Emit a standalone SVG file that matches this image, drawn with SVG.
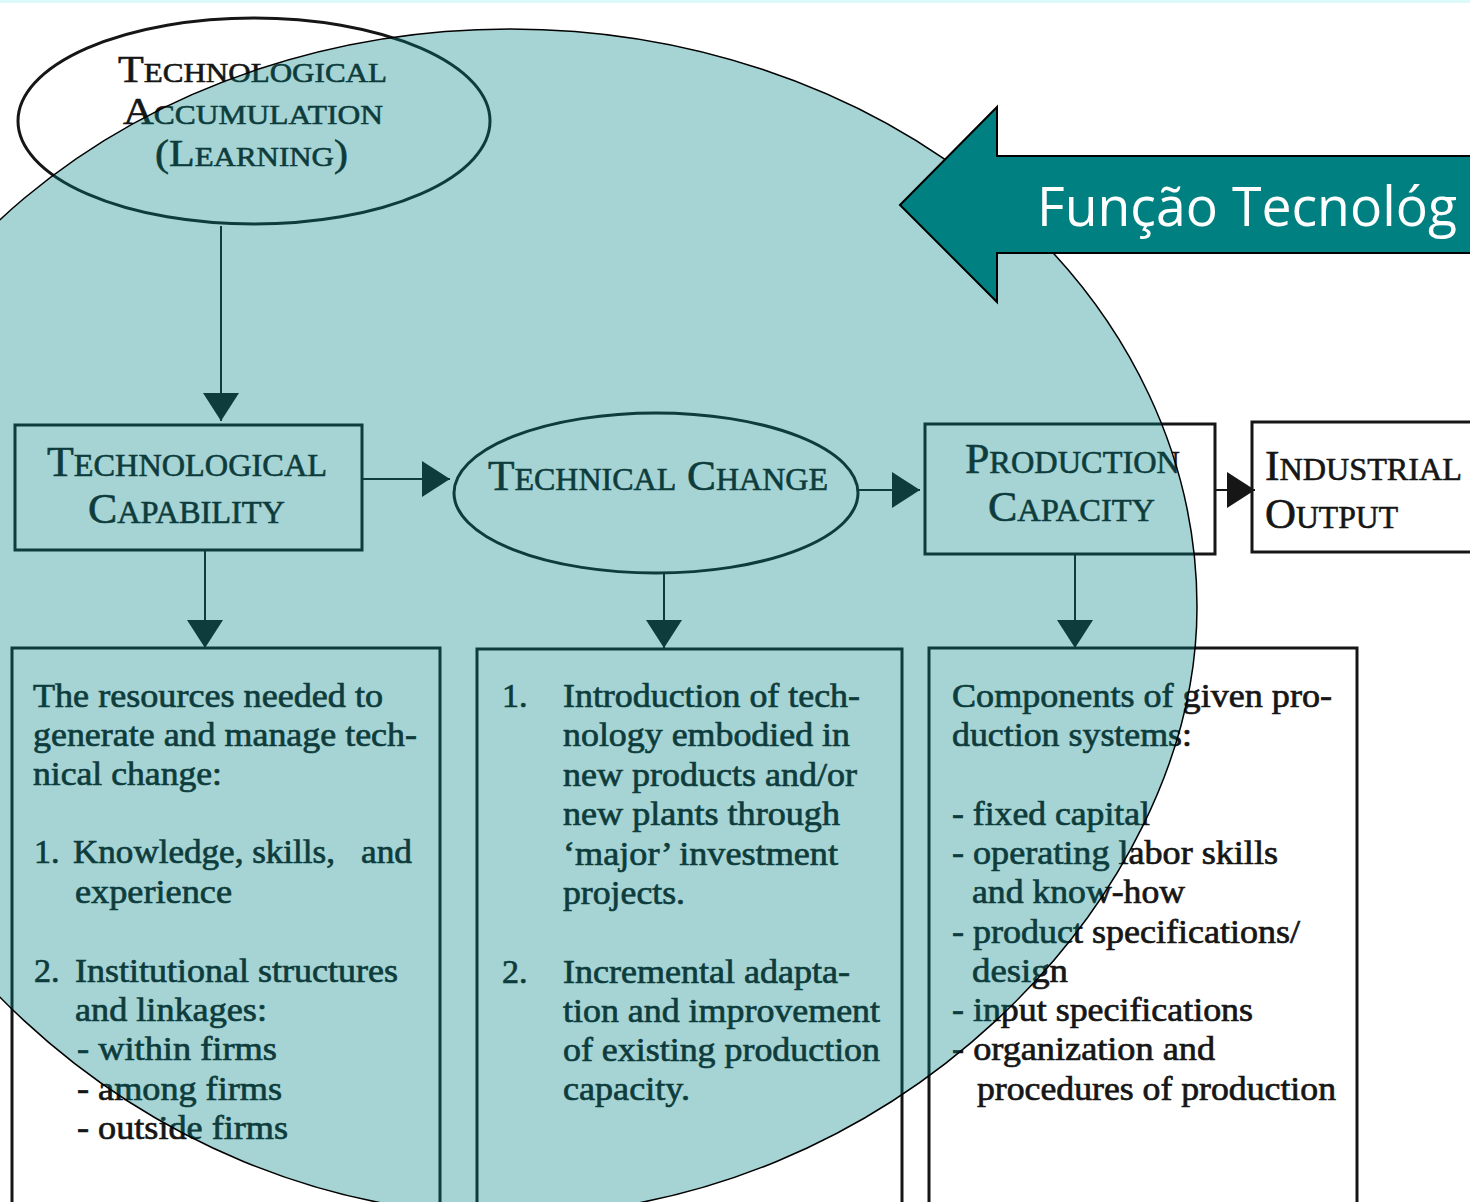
<svg xmlns="http://www.w3.org/2000/svg" width="1470" height="1202" viewBox="0 0 1470 1202">
<style>
.ln{stroke:#161616;fill:none}
.bx{stroke:#161616;stroke-width:3;fill:none}
.h{font-family:"Liberation Serif","Times New Roman",serif;font-size:42px;fill:#161616;stroke:#161616;stroke-width:0.6}
.h2{font-family:"Liberation Serif","Times New Roman",serif;font-size:38px;fill:#161616;stroke:#161616;stroke-width:0.6}
.sc{font-size:31px}
.sc2{font-size:28px}
.b{font-family:"Liberation Serif","Times New Roman",serif;font-size:34px;fill:#161616;stroke:#161616;stroke-width:0.7}
.cn{stroke:#161616;stroke-width:2;fill:none;marker-end:url(#ah)}
</style>
<defs>
<marker id="ah" viewBox="0 0 28 36" refX="28" refY="18" markerWidth="28" markerHeight="36" markerUnits="userSpaceOnUse" orient="auto">
<path d="M0,0 L28,18 L0,36 Z" fill="#161616"/>
</marker>
</defs>
<rect x="0" y="0" width="1470" height="1202" fill="#ffffff"/>
<rect x="0" y="0" width="1470" height="3" fill="#dcfafa"/>

<g id="connectors">
<line class="cn" x1="221" y1="226" x2="221" y2="421"/>
<line class="cn" x1="362" y1="479" x2="450" y2="479"/>
<line class="cn" x1="858" y1="490" x2="920" y2="490"/>
<line class="cn" x1="1215" y1="490" x2="1255" y2="490"/>
<line class="cn" x1="205" y1="550" x2="205" y2="648"/>
<line class="cn" x1="664" y1="573" x2="664" y2="648"/>
<line class="cn" x1="1075" y1="554" x2="1075" y2="648"/>
</g>

<g id="n-accumulation">
<ellipse cx="254" cy="121" rx="236" ry="103" class="ln" stroke-width="3"/>
<text class="h2" x="118" y="82" textLength="269" lengthAdjust="spacingAndGlyphs">T<tspan class="sc2">ECHNOLOGICAL</tspan></text>
<text class="h2" x="123" y="124" textLength="260" lengthAdjust="spacingAndGlyphs">A<tspan class="sc2">CCUMULATION</tspan></text>
<text class="h2" x="155" y="166" textLength="193" lengthAdjust="spacingAndGlyphs">(L<tspan class="sc2">EARNING</tspan>)</text>
</g>

<g id="n-capability">
<rect x="15" y="425" width="347" height="125" class="bx"/>
<text class="h" x="47" y="476" textLength="280" lengthAdjust="spacingAndGlyphs">T<tspan class="sc">ECHNOLOGICAL</tspan></text>
<text class="h" x="88" y="523" textLength="197" lengthAdjust="spacingAndGlyphs">C<tspan class="sc">APABILITY</tspan></text>
</g>

<g id="n-technical-change">
<ellipse cx="656" cy="493" rx="202" ry="80" class="ln" stroke-width="3"/>
<text class="h" x="488" y="490" textLength="340" lengthAdjust="spacingAndGlyphs">T<tspan class="sc">ECHNICAL</tspan> C<tspan class="sc">HANGE</tspan></text>
</g>

<g id="n-production">
<rect x="925" y="424" width="290" height="130" class="bx"/>
<text class="h" x="965" y="473" textLength="215" lengthAdjust="spacingAndGlyphs">P<tspan class="sc">RODUCTION</tspan></text>
<text class="h" x="988" y="521" textLength="167" lengthAdjust="spacingAndGlyphs">C<tspan class="sc">APACITY</tspan></text>
</g>

<g id="n-output">
<rect x="1252" y="422" width="240" height="130" class="bx"/>
<text class="h" x="1265" y="480" textLength="197" lengthAdjust="spacingAndGlyphs">I<tspan class="sc">NDUSTRIAL</tspan></text>
<text class="h" x="1265" y="528" textLength="133" lengthAdjust="spacingAndGlyphs">O<tspan class="sc">UTPUT</tspan></text>
</g>

<g id="n-resources">
<rect x="12" y="648" width="428" height="556" class="bx"/>
<text class="b" x="33" y="707" textLength="350" lengthAdjust="spacingAndGlyphs">The resources needed to</text>
<text class="b" x="33" y="746" textLength="384" lengthAdjust="spacingAndGlyphs">generate and manage tech-</text>
<text class="b" x="33" y="785" textLength="189" lengthAdjust="spacingAndGlyphs">nical change:</text>
<text class="b" x="34" y="863">1.</text>
<text class="b" x="73" y="863" textLength="262" lengthAdjust="spacingAndGlyphs">Knowledge, skills,</text>
<text class="b" x="361" y="863" textLength="51" lengthAdjust="spacingAndGlyphs">and</text>
<text class="b" x="75" y="903" textLength="157" lengthAdjust="spacingAndGlyphs">experience</text>
<text class="b" x="34" y="982">2.</text>
<text class="b" x="75" y="982" textLength="323" lengthAdjust="spacingAndGlyphs">Institutional structures</text>
<text class="b" x="75" y="1021" textLength="192" lengthAdjust="spacingAndGlyphs">and linkages:</text>
<text class="b" x="77" y="1060" textLength="200" lengthAdjust="spacingAndGlyphs">- within firms</text>
<text class="b" x="77" y="1100" textLength="205" lengthAdjust="spacingAndGlyphs">- among firms</text>
<text class="b" x="77" y="1139" textLength="211" lengthAdjust="spacingAndGlyphs">- outside firms</text>
</g>

<g id="n-change-forms">
<rect x="477" y="649" width="425" height="555" class="bx"/>
<text class="b" x="502" y="707">1.</text>
<text class="b" x="563" y="707" textLength="297" lengthAdjust="spacingAndGlyphs">Introduction of tech-</text>
<text class="b" x="563" y="746" textLength="287" lengthAdjust="spacingAndGlyphs">nology embodied in</text>
<text class="b" x="563" y="786" textLength="294" lengthAdjust="spacingAndGlyphs">new products and/or</text>
<text class="b" x="563" y="825" textLength="277" lengthAdjust="spacingAndGlyphs">new plants through</text>
<text class="b" x="563" y="865" textLength="275" lengthAdjust="spacingAndGlyphs">‘major’ investment</text>
<text class="b" x="563" y="904" textLength="122" lengthAdjust="spacingAndGlyphs">projects.</text>
<text class="b" x="502" y="983">2.</text>
<text class="b" x="563" y="983" textLength="287" lengthAdjust="spacingAndGlyphs">Incremental adapta-</text>
<text class="b" x="563" y="1022" textLength="317" lengthAdjust="spacingAndGlyphs">tion and improvement</text>
<text class="b" x="563" y="1061" textLength="317" lengthAdjust="spacingAndGlyphs">of existing production</text>
<text class="b" x="563" y="1100" textLength="127" lengthAdjust="spacingAndGlyphs">capacity.</text>
</g>

<g id="n-components">
<rect x="929" y="648" width="428" height="556" class="bx"/>
<text class="b" x="952" y="707" textLength="380" lengthAdjust="spacingAndGlyphs">Components of given pro-</text>
<text class="b" x="952" y="746" textLength="240" lengthAdjust="spacingAndGlyphs">duction systems:</text>
<text class="b" x="952" y="825" textLength="198" lengthAdjust="spacingAndGlyphs">- fixed capital</text>
<text class="b" x="952" y="864" textLength="326" lengthAdjust="spacingAndGlyphs">- operating labor skills</text>
<text class="b" x="972" y="903" textLength="213" lengthAdjust="spacingAndGlyphs">and know-how</text>
<text class="b" x="952" y="943" textLength="348" lengthAdjust="spacingAndGlyphs">- product specifications/</text>
<text class="b" x="972" y="982" textLength="96" lengthAdjust="spacingAndGlyphs">design</text>
<text class="b" x="952" y="1021" textLength="301" lengthAdjust="spacingAndGlyphs">- input specifications</text>
<text class="b" x="952" y="1060" textLength="263" lengthAdjust="spacingAndGlyphs">- organization and</text>
<text class="b" x="977" y="1100" textLength="359" lengthAdjust="spacingAndGlyphs">procedures of production</text>
</g>

<g id="overlay">
<path d="M-177,607 A687,578 0 0 1 1197,607 C1197,900 889,1215 510,1215 C131,1215 -177,900 -177,607 Z" fill="#008080" fill-opacity="0.35" stroke="#000" stroke-width="1.5"/>
</g>

<g id="banner">
<polygon points="900,205 997,107 997,156 1475,156 1475,253 997,253 997,302" fill="#008080" stroke="#000" stroke-width="2"/>
<text x="1037" y="226" font-family="'Open Sans','Noto Sans',sans-serif" font-size="55" fill="#ffffff" textLength="420" lengthAdjust="spacingAndGlyphs">Função Tecnológ</text>
</g>
</svg>
